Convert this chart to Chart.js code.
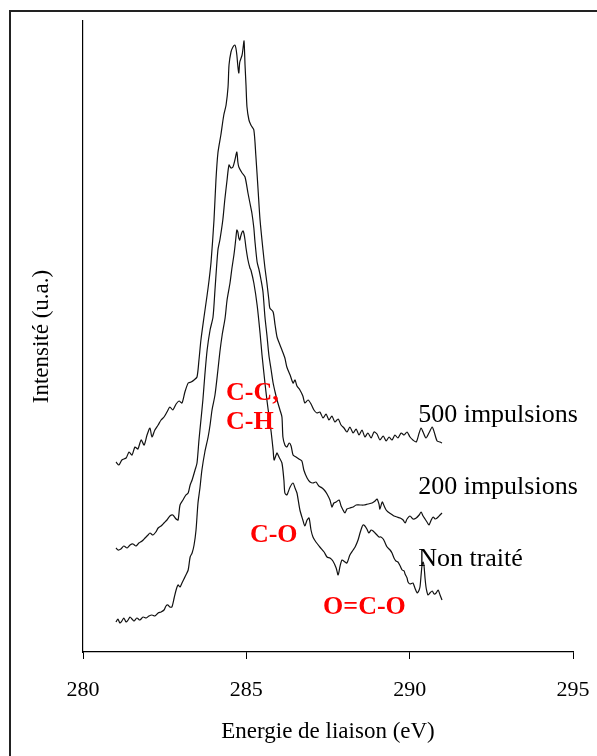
<!DOCTYPE html>
<html>
<head>
<meta charset="utf-8">
<script src="https://cdn.jsdelivr.net/npm/chart.js@4.4.1/dist/chart.umd.min.js"></script>
<style>
  html, body { margin: 0; padding: 0; background: #fff; }
  #wrap { position: relative; width: 597px; height: 756px; overflow: hidden; }
  #frame { position: absolute; left: 9px; top: 10px; right: -5px; bottom: -5px;
           border-top: 2px solid #222; border-left: 2px solid #222; }
  canvas { position: absolute; left: 0; top: 0; }
</style>
</head>
<body>
<div id="wrap">
  <div id="frame"></div>
  <canvas id="chart" width="597" height="756"></canvas>
</div>
<script>
// C1s spectra: binding energy (eV) and intensity (arbitrary units)
const energy500 = [281.01,281.10,281.19,281.32,281.41,281.50,281.59,281.68,281.78,281.87,281.96,282.05,282.11,282.20,282.30,282.39,282.48,282.57,282.66,282.75,282.85,282.94,283.03,283.12,283.22,283.31,283.40,283.49,283.55,283.61,283.70,283.80,283.86,283.92,284.01,284.07,284.13,284.22,284.31,284.38,284.44,284.47,284.53,284.59,284.65,284.68,284.71,284.74,284.77,284.80,284.87,284.90,284.93,284.96,284.99,285.02,285.08,285.14,285.23,285.29,285.36,285.42,285.51,285.57,285.63,285.69,285.72,285.82,285.88,285.94,286.03,286.09,286.18,286.24,286.34,286.43,286.49,286.55,286.64,286.73,286.79,286.89,286.98,287.07,287.16,287.25,287.35,287.44,287.53,287.62,287.71,287.81,287.90,287.99,288.08,288.17,288.27,288.36,288.45,288.54,288.63,288.72,288.82,288.91,289.00,289.09,289.19,289.28,289.37,289.46,289.55,289.64,289.74,289.83,289.92,290.01,290.10,290.20,290.29,290.35,290.41,290.50,290.59,290.69,290.75,290.84,290.93,290.99];
const counts500 = [190,187,192,194,200,197,205,203,212,207,217,224,215,222,227,232,235,240,245,242,248,251,249,260,269,270,272,275,292,312,334,357,372,390,432,472,499,517,537,547,565,587,600,605,607,604,597,586,579,590,597,604,611,587,567,545,532,527,522,497,462,432,402,384,369,352,344,340,327,315,307,302,294,285,277,269,272,266,262,256,249,252,248,242,239,240,234,238,232,236,230,233,227,224,220,225,219,223,217,222,215,219,214,220,218,212,216,211,215,212,217,214,219,217,220,215,212,210,219,224,220,214,219,225,220,211,210,209];

const energy200 = [281.01,281.07,281.16,281.25,281.35,281.44,281.53,281.62,281.71,281.81,281.90,281.99,282.05,282.14,282.23,282.30,282.39,282.48,282.57,282.66,282.75,282.85,282.91,282.97,283.06,283.15,283.22,283.28,283.34,283.43,283.49,283.55,283.61,283.67,283.73,283.80,283.89,283.98,284.04,284.13,284.19,284.28,284.34,284.41,284.47,284.53,284.59,284.65,284.71,284.74,284.77,284.87,284.96,285.05,285.11,285.17,285.23,285.26,285.33,285.39,285.45,285.51,285.57,285.63,285.69,285.76,285.82,285.88,285.94,286.03,286.09,286.12,286.18,286.24,286.31,286.37,286.43,286.52,286.61,286.70,286.76,286.86,286.95,287.04,287.13,287.22,287.32,287.41,287.47,287.56,287.62,287.68,287.75,287.84,287.90,287.96,288.02,288.08,288.17,288.27,288.36,288.48,288.60,288.72,288.85,288.94,289.00,289.06,289.09,289.16,289.22,289.28,289.34,289.43,289.52,289.61,289.71,289.80,289.86,289.92,290.01,290.10,290.20,290.29,290.35,290.41,290.47,290.53,290.59,290.66,290.72,290.78,290.84,290.93,290.99];
const counts200 = [104,102,103,106,104,107,108,106,109,111,114,117,119,117,120,124,126,129,132,136,137,133,132,147,152,157,159,167,172,182,189,212,232,252,277,302,322,335,362,402,412,432,452,472,487,484,485,492,500,490,485,479,475,459,449,439,424,412,390,382,372,360,335,317,297,282,269,260,252,242,235,215,207,205,209,206,197,195,193,191,182,174,170,169,170,166,164,161,158,152,145,149,150,152,146,142,139,143,144,145,147,147,147,148,149,151,153,148,143,150,146,142,140,138,136,135,134,132,129,133,136,133,134,137,140,136,133,130,127,132,135,133,134,137,139];

const energyRaw = [281.01,281.07,281.13,281.19,281.25,281.32,281.38,281.44,281.50,281.56,281.65,281.74,281.84,281.93,282.02,282.11,282.20,282.30,282.39,282.48,282.54,282.60,282.66,282.72,282.79,282.85,282.91,282.97,283.03,283.09,283.15,283.22,283.28,283.34,283.40,283.46,283.52,283.58,283.64,283.73,283.83,283.89,283.95,284.04,284.13,284.19,284.26,284.35,284.41,284.50,284.56,284.62,284.65,284.68,284.71,284.74,284.77,284.80,284.83,284.87,284.90,284.93,284.96,284.99,285.05,285.11,285.14,285.23,285.33,285.42,285.48,285.57,285.63,285.69,285.76,285.82,285.85,285.91,285.94,286.00,286.09,286.15,286.18,286.24,286.27,286.34,286.43,286.49,286.55,286.64,286.73,286.79,286.86,286.92,286.98,287.04,287.13,287.25,287.38,287.47,287.56,287.65,287.75,287.81,287.87,287.93,288.02,288.08,288.17,288.27,288.33,288.42,288.48,288.54,288.57,288.63,288.69,288.75,288.82,288.88,288.94,289.00,289.06,289.12,289.19,289.25,289.31,289.40,289.46,289.52,289.58,289.64,289.71,289.77,289.83,289.86,289.92,289.95,290.01,290.10,290.16,290.23,290.29,290.32,290.35,290.38,290.41,290.44,290.47,290.50,290.53,290.56,290.62,290.69,290.75,290.81,290.87,290.93,290.99];
const countsRaw = [30,33,29,31,34,30,32,35,33,31,34,32,35,34,36,37,36,39,40,42,46,47,45,45,54,62,67,65,69,73,77,82,95,99,107,122,149,164,182,200,215,227,242,257,282,300,317,334,352,369,384,397,405,414,422,420,414,412,416,420,421,418,412,404,392,384,382,369,347,319,297,269,252,237,220,202,192,197,199,195,189,172,159,157,159,165,169,164,159,142,132,126,132,134,122,115,110,105,100,95,94,91,84,77,86,92,90,89,97,102,105,112,119,125,127,126,123,119,122,121,119,117,115,115,113,109,105,102,99,94,91,90,86,82,81,78,74,70,68,69,64,59,62,66,77,87,90,86,74,65,60,57,59,61,58,59,62,57,52];

const xTicks = [280, 285, 290, 295];

// text labels placed in data units (left edge, vertical middle)
const seriesLabels = [
    { text: '500 impulsions', e: 290.26, i: 237 },
    { text: '200 impulsions', e: 290.26, i: 165 },
    { text: 'Non traité', e: 290.26, i: 93 }
];
const bondLabels = [
    { text: 'C-C,', e: 284.38, i: 259 },
    { text: 'C-H', e: 284.38, i: 230 },
    { text: 'C-O', e: 285.11, i: 117 },
    { text: 'O=C-O', e: 287.35, i: 45 }
];

const FONT = "'Liberation Serif', 'Times New Roman', serif";

function toPoints(xs, ys) {
    return xs.map((x, k) => ({ x: x, y: ys[k] }));
}

function lineSet(label, xs, ys) {
    return {
        label: label,
        data: toPoints(xs, ys),
        borderColor: '#111',
        borderWidth: 1.2,
        pointRadius: 0,
        tension: 0.25,
        fill: false
    };
}

const textPlugin = {
    id: 'textLabels',
    afterDatasetsDraw(chart) {
        const { ctx, scales: { x, y } } = chart;
        ctx.save();
        ctx.textAlign = 'left';
        ctx.textBaseline = 'middle';
        ctx.fillStyle = '#000';
        ctx.font = `26px ${FONT}`;
        seriesLabels.forEach(l => {
            ctx.fillText(l.text, x.getPixelForValue(l.e), y.getPixelForValue(l.i));
        });
        ctx.fillStyle = '#ff0000';
        ctx.font = `bold 26px ${FONT}`;
        bondLabels.forEach(l => {
            ctx.fillText(l.text, x.getPixelForValue(l.e), y.getPixelForValue(l.i));
        });
        ctx.restore();
    }
};

new Chart(document.getElementById('chart'), {
    type: 'line',
    data: {
        datasets: [
            lineSet('500 impulsions', energy500, counts500),
            lineSet('200 impulsions', energy200, counts200),
            lineSet('Non traité', energyRaw, countsRaw)
        ]
    },
    options: {
        responsive: false,
        animation: false,
        layout: { padding: { top: 21, right: 24, left: 0, bottom: 0 } },
        plugins: { legend: { display: false }, tooltip: { enabled: false } },
        scales: {
            x: {
                type: 'linear',
                min: 280,
                max: 295,
                afterBuildTicks: s => { s.ticks = xTicks.map(v => ({ value: v })); },
                afterFit: s => { s.height = 104; s.paddingLeft = 0; s.paddingRight = 0; },
                ticks: {
                    color: '#000',
                    font: { family: FONT, size: 22 },
                    padding: 18,
                    maxRotation: 0
                },
                grid: { display: true, drawOnChartArea: false, drawTicks: true, tickLength: 7, color: '#000', lineWidth: 1 },
                border: { display: true, color: '#000', width: 1.2 },
                title: {
                    display: true,
                    text: 'Energie de liaison (eV)',
                    color: '#000',
                    font: { family: FONT, size: 23 },
                    padding: { top: 0, bottom: 10 }
                }
            },
            y: {
                min: 0,
                max: 631,
                afterFit: s => { s.width = 83; s.paddingTop = 0; s.paddingBottom = 0; },
                ticks: { display: false },
                grid: { display: false },
                border: { display: true, color: '#000', width: 1.2 },
                title: {
                    display: true,
                    text: 'Intensité (u.a.)',
                    color: '#000',
                    font: { family: FONT, size: 23 },
                    padding: { top: 28, bottom: 0 }
                }
            }
        }
    },
    plugins: [textPlugin]
});
</script>
</body>
</html>
